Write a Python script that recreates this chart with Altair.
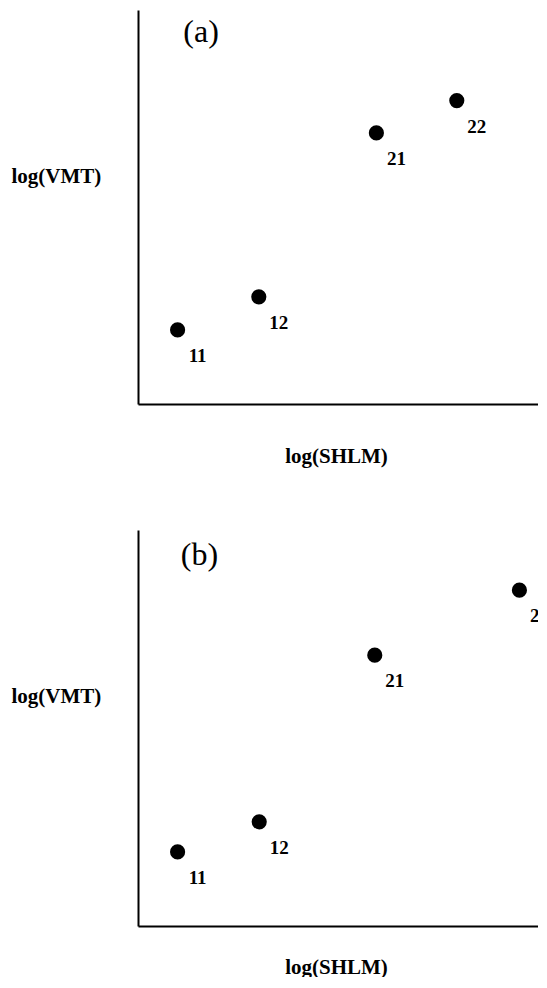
import altair as alt
import pandas as pd

# point labels (shared by both panels)
labels = ["11", "12", "21", "22"]

# panel (a) positions (arbitrary log units along each axis)
a_x = [9.8, 29.9, 59.0, 78.9]
a_y = [18.8, 27.2, 68.8, 77.0]

# panel (b) positions
b_x = [9.8, 30.0, 58.6, 94.4]
b_y = [18.7, 26.3, 68.4, 84.8]

# panel tags
tags = ["(a)", "(b)"]
tag_x = [15.6, 15.2]
tag_y = [91.9, 91.2]

x_title = "log(SHLM)"
y_title = "log(VMT)"

FONT = "Liberation Serif"


def panel(xs, ys, tag, tx, ty, h, xtitle_y):
    df = pd.DataFrame({"x": xs, "y": ys, "label": labels})
    tagdf = pd.DataFrame({"x": [tx], "y": [ty], "tag": [tag]})
    xscale = alt.Scale(domain=[0, 99], nice=False, zero=False)
    yscale = alt.Scale(domain=[0, 100], nice=False, zero=False)
    xax = alt.Axis(title=x_title, labels=False, ticks=False, grid=False,
                   domainColor="black", domainWidth=2,
                   titleFont=FONT, titleFontSize=21, titleFontWeight="bold",
                   titleColor="black", titleX=198, titleY=xtitle_y,
                   titleAlign="center", titleBaseline="alphabetic")
    yax = alt.Axis(title=y_title, labels=False, ticks=False, grid=False,
                   domainColor="black", domainWidth=2, titleAngle=0,
                   titleFont=FONT, titleFontSize=21, titleFontWeight="bold",
                   titleColor="black", titleX=-127, titleY=172,
                   titleAlign="left", titleBaseline="alphabetic")
    X = alt.X("x:Q", scale=xscale, axis=xax)
    Y = alt.Y("y:Q", scale=yscale, axis=yax)
    pts = alt.Chart(df).mark_circle(size=230, color="black", opacity=1).encode(x=X, y=Y)
    txt = alt.Chart(df).mark_text(font=FONT, fontSize=19, fontWeight="bold",
                                  dx=20, dy=26, clip=True,
                                  align="center", baseline="middle",
                                  color="black").encode(x=X, y=Y, text="label:N")
    tg = alt.Chart(tagdf).mark_text(font=FONT, fontSize=32, align="center",
                                    baseline="alphabetic",
                                    color="black").encode(x=X, y=Y, text="tag:N")
    return alt.layer(pts, txt, tg).properties(width=400, height=h)


pa = panel(a_x, a_y, tags[0], tag_x[0], tag_y[0], 394, 58)
pb = panel(b_x, b_y, tags[1], tag_x[1], tag_y[1], 396, 47)

chart = alt.vconcat(pa, pb, spacing=64).properties(
    padding={"left": 3, "top": 2, "right": 0, "bottom": 0}
).configure_view(strokeWidth=0)

chart.save("out.html", embed_options={"renderer": "svg", "actions": False})
